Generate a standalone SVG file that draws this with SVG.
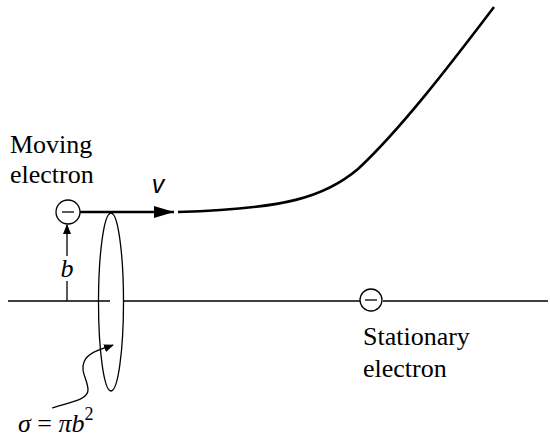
<svg xmlns="http://www.w3.org/2000/svg" width="550" height="438" viewBox="0 0 550 438">
<style>
.ln{stroke:#000;stroke-width:1.3;fill:none}
.thick{stroke:#000;stroke-width:2.6;fill:none}
.lbl{font-size:26px;fill:#000}
.it{font-style:italic}
.v{font-family:"Liberation Sans",Arial,sans-serif;font-size:25px;font-style:italic;fill:#000}
</style>
<defs>
<marker id="ah" viewBox="0 0 10 10" refX="9" refY="5" markerWidth="10" markerHeight="10" markerUnits="userSpaceOnUse" orient="auto">
<path d="M0,1 L10,5 L0,9 Z" fill="#000"/>
</marker>
<marker id="ahBig" viewBox="0 0 20 12" refX="20" refY="6" markerWidth="20" markerHeight="12" markerUnits="userSpaceOnUse" orient="auto">
<path d="M0,0 L20,6 L0,12 Z" fill="#000"/>
</marker>
</defs>
<g id="cross-section">
<ellipse cx="111" cy="302" rx="12.5" ry="89" class="ln"/>
</g>
<g id="connectors">
<line x1="8" y1="301" x2="110" y2="301" class="ln"/>
<line x1="124" y1="301" x2="360" y2="301" class="ln"/>
<line x1="383" y1="301" x2="548" y2="301" class="ln"/>
<line x1="80" y1="212" x2="174" y2="212" class="thick" marker-end="url(#ahBig)"/>
<path d="M178,212 C285,209 325,197 358,169 C400,130 450,65 494,7" class="thick"/>
<line x1="67" y1="301" x2="67" y2="281" class="ln"/>
<line x1="67" y1="256" x2="67" y2="225" class="ln" marker-end="url(#ah)"/>
<path d="M52,408 C70,402 88,400 88,390 C88,380 80,372 84,362 C88,352 100,350 113,345" class="ln" marker-end="url(#ah)"/>
</g>
<g id="moving-electron" font-family="'Liberation Serif', 'DejaVu Serif', serif">
<circle cx="68" cy="212" r="12" fill="#fff" class="ln"/>
<line x1="62" y1="212" x2="74" y2="212" class="ln"/>
<text x="10" y="153" class="lbl">Moving</text>
<text x="10" y="183" class="lbl">electron</text>
</g>
<g id="stationary-electron" font-family="'Liberation Serif', 'DejaVu Serif', serif">
<circle cx="371" cy="300" r="11" fill="#fff" class="ln"/>
<line x1="365" y1="300" x2="377" y2="300" class="ln"/>
<text x="363" y="345" class="lbl">Stationary</text>
<text x="363" y="377" class="lbl">electron</text>
</g>
<g id="labels" font-family="'Liberation Serif', 'DejaVu Serif', serif">
<text x="158" y="193" class="v" text-anchor="middle">v</text>
<text x="67" y="277" class="lbl it" text-anchor="middle" font-size="24">b</text>
<text x="18" y="432" class="lbl"><tspan class="it">σ</tspan> = <tspan class="it">πb</tspan><tspan font-size="18" dy="-12">2</tspan></text>
</g>
</svg>
